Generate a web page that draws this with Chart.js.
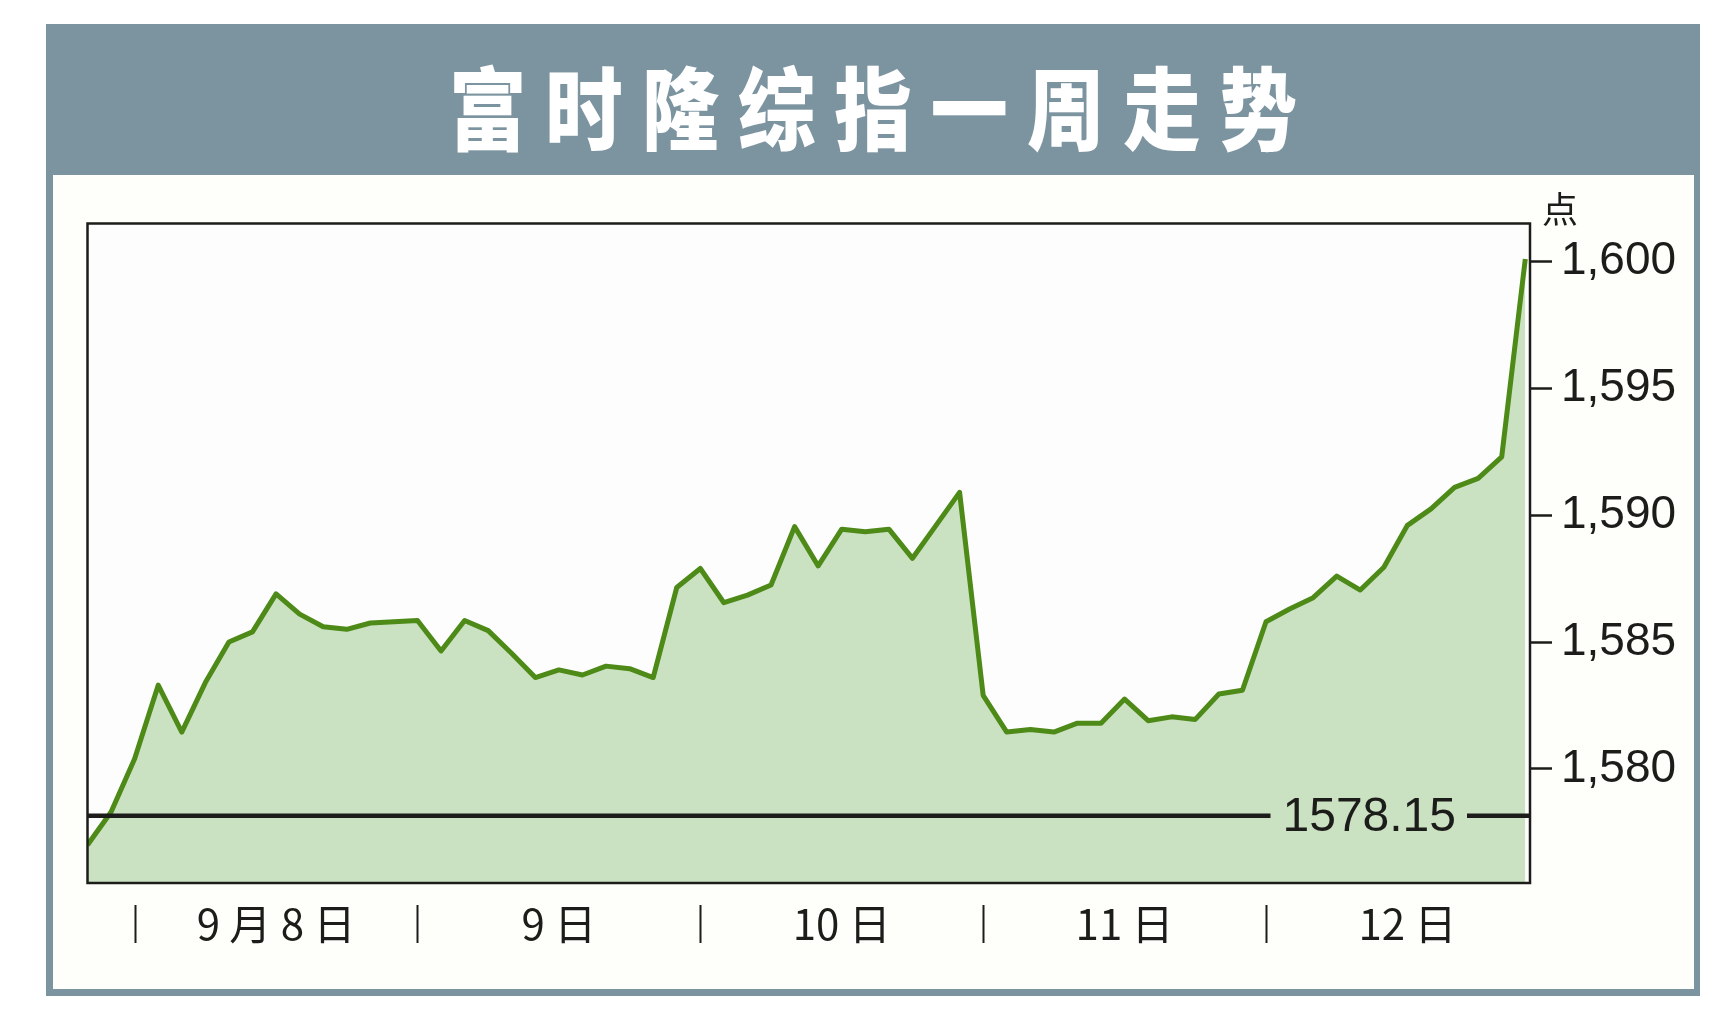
<!DOCTYPE html>
<html>
<head>
<meta charset="utf-8">
<script src="https://cdn.jsdelivr.net/npm/chart.js@4.4.1/dist/chart.umd.min.js"></script>
<style>
    body {
        margin: 0;
        background: #ffffff;
        width: 1736px;
        height: 1027px;
        position: relative;
        overflow: hidden;
    }
    #frame {
        position: absolute;
        left: 46px;
        top: 24px;
        width: 1654px;
        height: 972px;
        background: #7c94a0;
    }
    #title {
        position: absolute;
        left: 0;
        top: 0;
        width: 100%;
        height: 151px;
        display: flex;
        align-items: center;
        justify-content: center;
        padding-top: 8px;
        box-sizing: border-box;
    }
    #title span {
        display: inline-block;
        color: #ffffff;
        font-family: "Noto Sans CJK SC", sans-serif;
        font-weight: 900;
        font-size: 90px;
        letter-spacing: 22px;
        padding-left: 22px;
        transform: scaleX(0.86);
        line-height: 1;
    }
    #panel {
        position: absolute;
        left: 7px;
        top: 151px;
        width: 1641px;
        height: 814px;
        background: #fefefb;
    }
</style>
</head>
<body>
<div id="frame">
    <div id="title"><span>富时隆综指一周走势</span></div>
    <div id="panel">
        <canvas id="klci-chart" width="1641" height="814"></canvas>
    </div>
</div>
<script>
// one point per half hour, 8 Sep - 12 Sep
const indexValues = [
    1577.0, 1578.3, 1580.4, 1583.3, 1581.45, 1583.4, 1585.0, 1585.4, 1586.9, 1586.1,
    1585.6, 1585.5, 1585.75, 1585.8, 1585.85, 1584.65, 1585.85, 1585.45, 1584.55, 1583.6,
    1583.9, 1583.7, 1584.05, 1583.95, 1583.6, 1587.15, 1587.9, 1586.55, 1586.85, 1587.25,
    1589.55, 1588.0, 1589.45, 1589.35, 1589.45, 1588.3, 1589.6, 1590.9, 1582.9, 1581.45,
    1581.55, 1581.45, 1581.8, 1581.8, 1582.75, 1581.9, 1582.05, 1581.95, 1582.95, 1583.1,
    1585.8, 1586.3, 1586.75, 1587.6, 1587.05, 1587.95, 1589.6, 1590.25, 1591.1, 1591.45,
    1592.3, 1600.1
];
const dayLabels = ['9 月 8 日', '9 日', '10 日', '11 日', '12 日'];
const dayLabelAt = [8, 20, 32, 44, 56];
const daySplitAt = [2, 14, 26, 38, 50];
const yTicks = [1580, 1585, 1590, 1595, 1600];
const prevClose = 1578.15;
const unitLabel = '点';

const ink = '#1c1c1a';

const klciDecor = {
    id: 'klciDecor',
    beforeDatasetsDraw(chart) {
        const {ctx, chartArea: a} = chart;
        ctx.save();
        ctx.fillStyle = '#fdfdfd';
        ctx.fillRect(a.left, a.top, a.right - a.left, a.bottom - a.top);
        ctx.restore();
    },
    afterDatasetsDraw(chart) {
        const {ctx, chartArea: a, scales} = chart;
        const x = scales.x;
        const y = scales.y;
        ctx.save();

        // previous close line with its value
        const py = y.getPixelForValue(prevClose);
        const label = prevClose.toFixed(2);
        ctx.font = '48px "Liberation Sans", Arial, sans-serif';
        const w = ctx.measureText(label).width;
        const tx = a.right - 74;
        ctx.strokeStyle = ink;
        ctx.lineWidth = 4.5;
        ctx.beginPath();
        ctx.moveTo(a.left, py);
        ctx.lineTo(tx - w - 12, py);
        ctx.moveTo(tx + 11, py);
        ctx.lineTo(a.right, py);
        ctx.stroke();
        ctx.fillStyle = ink;
        ctx.textAlign = 'right';
        ctx.textBaseline = 'middle';
        ctx.fillText(label, tx, py + 2);

        // plot box
        ctx.lineWidth = 2.5;
        ctx.strokeRect(a.left, a.top, a.right - a.left, a.bottom - a.top);

        // day separators under the axis
        ctx.lineWidth = 2;
        daySplitAt.forEach(i => {
            const sx = Math.round(x.getPixelForValue(i)) + 0.5;
            ctx.beginPath();
            ctx.moveTo(sx, a.bottom + 22);
            ctx.lineTo(sx, a.bottom + 60);
            ctx.stroke();
        });

        // unit
        ctx.font = '36px "Noto Sans CJK SC", sans-serif';
        ctx.textAlign = 'center';
        ctx.fillText(unitLabel, a.right + 30, a.top - 14);
        ctx.restore();
    }
};

const klciCanvas = document.getElementById('klci-chart');
const klciData = {
    datasets: [{
        data: indexValues.map((v, i) => ({x: i, y: v})),
        borderColor: '#4d8a17',
        borderWidth: 5,
        backgroundColor: '#cae2c1',
        fill: 'start',
        pointRadius: 0,
        tension: 0,
        borderJoinStyle: 'round'
    }]
};
const klciOptions = {
    responsive: false,
    animation: false,
    layout: {
        padding: {left: 34.5, top: 48.5, right: 0, bottom: 0}
    },
    scales: {
        x: {
            type: 'linear',
            min: 0,
            max: 61.2,
            grid: {display: false, drawTicks: false},
            border: {display: false},
            afterBuildTicks: s => {
                s.ticks = dayLabelAt.map(v => ({value: v}));
            },
            ticks: {
                callback: (v, i) => dayLabels[i],
                autoSkip: false,
                maxRotation: 0,
                padding: 20,
                color: ink,
                font: {family: '"Liberation Sans Narrow", "Noto Sans CJK SC", sans-serif', size: 42, lineHeight: 1}
            },
            afterFit: s => {
                s.height = 106;
            }
        },
        y: {
            position: 'right',
            min: 1575.5,
            max: 1601.5,
            afterBuildTicks: s => {
                s.ticks = yTicks.map(v => ({value: v}));
            },
            grid: {
                drawOnChartArea: false,
                drawTicks: true,
                tickLength: 22,
                tickWidth: 2.5,
                tickColor: ink
            },
            border: {display: false},
            ticks: {
                callback: v => v.toLocaleString('en-US'),
                padding: 9,
                color: ink,
                font: {family: '"Liberation Sans", Arial, sans-serif', size: 46}
            },
            afterFit: s => {
                s.width = 164;
            }
        }
    },
    plugins: {
        legend: {display: false},
        tooltip: {enabled: false}
    }
};
let klciChart = new Chart(klciCanvas, {
    type: 'line',
    data: klciData,
    options: klciOptions,
    plugins: [klciDecor]
});
</script>
</body>
</html>
